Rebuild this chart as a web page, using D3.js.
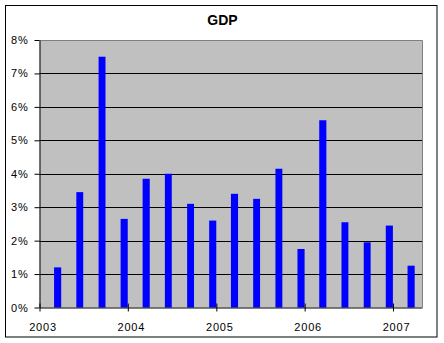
<!DOCTYPE html>
<html>
<head>
<meta charset="utf-8">
<script src="https://cdn.jsdelivr.net/npm/d3@7"></script>
<style>
  html, body { margin: 0; padding: 0; background: #fff; }
  svg { display: block; font-family: "Liberation Sans", Arial, sans-serif; }
</style>
</head>
<body>
<svg id="chart" width="444" height="343"></svg>
<script>
// Quarterly GDP growth (%), dated by the last month of each quarter
const quarters = ["2003-03", "2003-06", "2003-09", "2003-12",
                  "2004-03", "2004-06", "2004-09", "2004-12",
                  "2005-03", "2005-06", "2005-09", "2005-12",
                  "2006-03", "2006-06", "2006-09", "2006-12",
                  "2007-03"];
const gdpGrowth = [1.2, 3.45, 7.5, 2.65,
                   3.85, 4.0, 3.1, 2.6,
                   3.4, 3.25, 4.15, 1.75,
                   5.6, 2.55, 1.95, 2.45,
                   1.25];
const yTicks = [0, 1, 2, 3, 4, 5, 6, 7, 8];
const yearTicks = ["2003", "2004", "2005", "2006", "2007"];

const parseMonth = d3.timeParse("%Y-%m");
const parseYear = d3.timeParse("%Y");

const svg = d3.select("#chart");
const plot = { left: 39.5, right: 422, top: 40, bottom: 307.5 };

// Outer chart frame
svg.append("rect")
  .attr("x", 5.5).attr("y", 5.5)
  .attr("width", 431.5).attr("height", 331.5)
  .attr("fill", "#fff").attr("stroke", "#000").attr("stroke-width", 1);

// Title
svg.append("text")
  .attr("x", 222.5).attr("y", 25)
  .attr("text-anchor", "middle")
  .attr("font-size", 14).attr("font-weight", "bold")
  .text("GDP");

const x = d3.scaleTime()
  .domain([new Date(2003, 0, 1), new Date(2007, 4, 1)])
  .range([plot.left, plot.right]);
const y = d3.scaleLinear()
  .domain([0, 8])
  .range([plot.bottom, plot.top]);

// Plot background
svg.append("rect")
  .attr("x", plot.left).attr("y", plot.top)
  .attr("width", plot.right - plot.left).attr("height", plot.bottom - plot.top)
  .attr("fill", "#c0c0c0");

// Horizontal gridlines
svg.append("g")
  .selectAll("line")
  .data(yTicks.filter(v => v > 0 && v < 8))
  .join("line")
  .attr("x1", plot.left).attr("x2", plot.right)
  .attr("y1", d => Math.round(y(d)) + 0.5).attr("y2", d => Math.round(y(d)) + 0.5)
  .attr("stroke", "#000").attr("stroke-width", 1);

// Plot border top/right
svg.append("path")
  .attr("d", `M${plot.left},${plot.top + 0.5}H${plot.right + 0.5}V${plot.bottom}`)
  .attr("fill", "none").attr("stroke", "#808080").attr("stroke-width", 1);

// Bars: one month slot per quarter-end month
const bars = quarters.map((q, i) => {
  const start = parseMonth(q);
  const end = d3.timeMonth.offset(start, 1);
  return { start, end, value: gdpGrowth[i] };
});
svg.append("g")
  .selectAll("rect")
  .data(bars)
  .join("rect")
  .attr("x", d => {
    const w = x(d.end) - x(d.start);
    return x(d.start) + w * 0.04;
  })
  .attr("width", d => (x(d.end) - x(d.start)) * 0.95)
  .attr("y", d => y(d.value))
  .attr("height", d => y(0) - y(d.value))
  .attr("fill", "#0000ff");

// Y axis
const yAxis = d3.axisLeft(y)
  .tickValues(yTicks)
  .tickSize(5)
  .tickSizeOuter(0)
  .tickFormat(d => d + "%");
const gy = svg.append("g")
  .attr("transform", `translate(${plot.left},0)`)
  .call(yAxis);
gy.selectAll("text")
  .attr("font-size", 11)
  .attr("font-family", "'Liberation Sans', Arial, sans-serif")
  .attr("letter-spacing", 0.8)
  .attr("fill", "#000")
  .attr("x", -11);
gy.selectAll(".tick line").attr("stroke", "#000");
gy.select(".domain").attr("stroke", "#000");

// X axis (time, yearly ticks crossing the axis)
const xAxis = d3.axisBottom(x)
  .tickValues(yearTicks.map(parseYear))
  .tickSize(0)
  .tickSizeOuter(0)
  .tickFormat(d3.timeFormat("%Y"));
const gx = svg.append("g")
  .attr("transform", `translate(0,${plot.bottom})`)
  .call(xAxis);
gx.select(".domain").attr("stroke", "#000");
gx.selectAll(".tick line")
  .attr("y1", -4).attr("y2", 4)
  .attr("stroke", "#000");
gx.selectAll("text")
  .attr("font-size", 11)
  .attr("font-family", "'Liberation Sans', Arial, sans-serif")
  .attr("letter-spacing", 0.8)
  .attr("fill", "#000")
  .attr("dy", 0)
  .attr("dx", 3)
  .attr("y", 23);
</script>
</body>
</html>
